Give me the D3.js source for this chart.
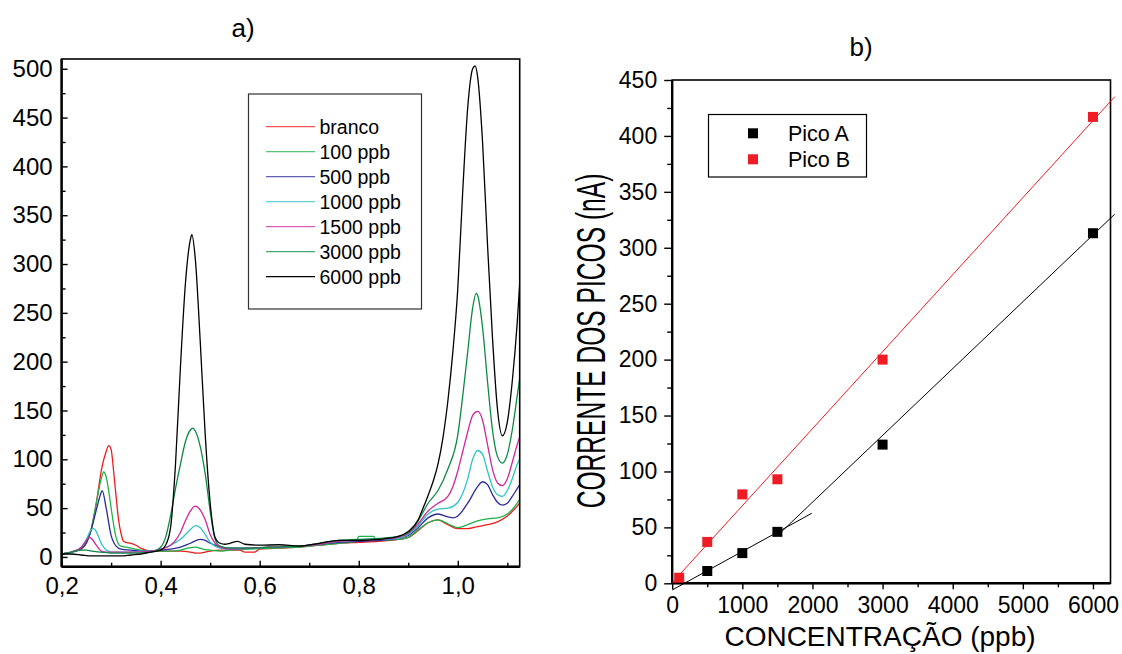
<!DOCTYPE html>
<html>
<head>
<meta charset="utf-8">
<script src="https://cdn.jsdelivr.net/npm/d3@7"></script>
<style>
body { margin: 0; background: #fff; }
svg { display: block; font-family: "Liberation Sans", Arial, sans-serif; }
</style>
</head>
<body>
<svg id="chart" width="1122" height="654"></svg>
<script>
// a) voltamogramas: [potencial, corrente]
const seriesNames = ["branco", "100 ppb", "500 ppb", "1000 ppb", "1500 ppb", "3000 ppb", "6000 ppb"];
const seriesColors = ["#f01c1c", "#1fb34a", "#2b2b9c", "#2ec4c4", "#cc2a9e", "#0c8a45", "#000000"];

const branco = [[0.20,3],[0.22,5],[0.24,8],[0.25,15],[0.26,29],[0.27,55],[0.28,88],[0.29,108],[0.295,114],[0.30,110],[0.305,88],[0.31,62],[0.315,38],[0.32,24],[0.325,16],[0.33,15],[0.34,14],[0.35,12],[0.36,9],[0.37,7],[0.38,6],[0.40,6],[0.42,6],[0.44,6],[0.46,5],[0.47,4],[0.48,4],[0.49,5],[0.50,6],[0.52,7],[0.54,7],[0.56,7],[0.57,5],[0.59,5],[0.60,8],[0.64,9],[0.68,10],[0.72,12],[0.76,14],[0.80,15],[0.84,16],[0.88,18],[0.90,20],[0.92,27],[0.94,35],[0.96,38],[0.98,33],[1.00,29],[1.02,29],[1.04,31],[1.06,33],[1.08,36],[1.10,42],[1.12,52],[1.125,55]];
const ppb100 = [[0.20,3],[0.22,5],[0.24,9],[0.25,15],[0.26,29],[0.27,55],[0.28,80],[0.285,87],[0.29,82],[0.295,68],[0.30,50],[0.31,20],[0.315,13],[0.32,11],[0.33,10],[0.34,9],[0.36,7],[0.38,6],[0.40,6],[0.42,6],[0.44,7],[0.455,9],[0.47,10],[0.485,8],[0.50,7],[0.52,6],[0.54,7],[0.58,8],[0.62,9],[0.68,10],[0.72,12],[0.76,14],[0.795,16],[0.80,21],[0.83,21],[0.835,17],[0.88,18],[0.90,20],[0.92,28],[0.94,35],[0.96,38],[0.98,34],[1.00,30],[1.02,33],[1.04,37],[1.06,39],[1.08,40],[1.10,44],[1.12,55],[1.125,59]];
const ppb500 = [[0.20,3],[0.22,5],[0.24,9],[0.25,14],[0.26,28],[0.27,48],[0.28,66],[0.282,68],[0.29,50],[0.30,22],[0.31,11],[0.32,8],[0.34,7],[0.36,6],[0.38,6],[0.40,7],[0.42,8],[0.44,10],[0.46,14],[0.48,18],[0.49,17],[0.50,14],[0.51,12],[0.52,10],[0.54,9],[0.58,9],[0.62,10],[0.68,11],[0.72,13],[0.76,15],[0.80,16],[0.84,17],[0.88,19],[0.90,22],[0.92,30],[0.94,40],[0.96,44],[0.98,41],[0.99,40],[1.00,42],[1.02,55],[1.04,72],[1.05,77],[1.06,74],[1.07,64],[1.08,56],[1.09,53],[1.10,55],[1.11,62],[1.12,70],[1.125,74]];
const ppb1000 = [[0.20,3],[0.22,5],[0.24,10],[0.25,18],[0.26,28],[0.265,29],[0.27,26],[0.28,14],[0.29,7],[0.30,5],[0.32,5],[0.34,5],[0.36,6],[0.38,6],[0.40,8],[0.42,12],[0.44,18],[0.46,28],[0.47,32],[0.48,30],[0.49,23],[0.50,15],[0.51,11],[0.52,9],[0.54,8],[0.58,9],[0.62,10],[0.68,11],[0.72,13],[0.76,16],[0.80,17],[0.84,18],[0.88,19],[0.90,23],[0.92,32],[0.94,44],[0.96,49],[0.98,50],[1.00,56],[1.02,80],[1.03,100],[1.04,109],[1.05,105],[1.06,88],[1.07,72],[1.08,64],[1.09,62],[1.10,68],[1.11,80],[1.12,95],[1.125,100]];
const ppb1500 = [[0.20,3],[0.22,5],[0.24,10],[0.25,17],[0.255,20],[0.26,19],[0.27,12],[0.28,6],[0.29,5],[0.30,5],[0.34,5],[0.38,6],[0.40,8],[0.42,12],[0.43,17],[0.44,25],[0.45,37],[0.46,47],[0.47,52],[0.48,48],[0.49,38],[0.50,23],[0.51,14],[0.52,10],[0.54,8],[0.58,9],[0.62,10],[0.68,11],[0.72,13],[0.76,16],[0.80,17],[0.84,18],[0.88,20],[0.90,24],[0.92,34],[0.94,47],[0.96,55],[0.98,62],[0.99,72],[1.00,88],[1.01,108],[1.02,128],[1.03,145],[1.04,149],[1.05,140],[1.06,115],[1.07,90],[1.08,76],[1.09,73],[1.10,80],[1.11,97],[1.12,115],[1.125,123]];
const ppb3000 = [[0.20,3],[0.22,5],[0.24,7],[0.25,7],[0.26,6],[0.28,5],[0.30,4],[0.34,4],[0.38,5],[0.40,10],[0.41,20],[0.42,42],[0.43,70],[0.44,95],[0.45,118],[0.46,130],[0.465,132],[0.47,129],[0.48,113],[0.49,85],[0.50,47],[0.51,18],[0.52,11],[0.54,9],[0.58,9],[0.62,10],[0.68,11],[0.72,14],[0.76,17],[0.80,18],[0.84,19],[0.88,21],[0.90,25],[0.92,37],[0.94,55],[0.96,68],[0.98,90],[1.00,125],[1.01,165],[1.02,210],[1.03,255],[1.037,270],[1.04,268],[1.05,235],[1.06,180],[1.07,130],[1.08,103],[1.09,96],[1.10,105],[1.11,130],[1.12,165],[1.125,183]];
const ppb6000 = [[0.20,3],[0.22,3],[0.24,2],[0.26,1],[0.28,1],[0.30,1],[0.32,1],[0.34,2],[0.36,3],[0.38,5],[0.40,7],[0.41,12],[0.42,30],[0.43,95],[0.44,195],[0.45,280],[0.46,325],[0.463,330],[0.47,305],[0.48,220],[0.49,125],[0.50,55],[0.51,20],[0.52,14],[0.53,13],[0.54,14],[0.555,16],[0.57,13],[0.60,12],[0.64,12.5],[0.68,11],[0.72,14],[0.76,17],[0.80,17],[0.84,18],[0.88,21],[0.90,26],[0.92,38],[0.93,50],[0.94,63],[0.95,77],[0.96,95],[0.97,122],[0.98,160],[0.99,210],[1.00,275],[1.01,375],[1.02,460],[1.03,500],[1.035,503],[1.04,492],[1.05,425],[1.06,320],[1.07,225],[1.08,152],[1.09,124],[1.10,138],[1.11,180],[1.12,240],[1.125,280]];

const curves = [branco, ppb100, ppb500, ppb1000, ppb1500, ppb3000, ppb6000];
const aTicksX = [0.2, 0.4, 0.6, 0.8, 1.0];
const aMinorX = [0.3, 0.5, 0.7, 0.9, 1.1];
const aTicksY = [0, 50, 100, 150, 200, 250, 300, 350, 400, 450, 500];
const aMinorY = [25, 75, 125, 175, 225, 275, 325, 375, 425, 475];

// b) curva de calibracao
const concA = [500, 1000, 1500, 3000, 6000];
const picoA = [11, 27, 46, 124, 313];
const concB = [100, 500, 1000, 1500, 3000, 6000];
const picoB = [5, 37, 79.5, 93, 200, 417];
const fitB = [[0, 0.5], [6310, 435]];
const fitA1 = [[0, -6], [1990, 62.6]];
const fitA2 = [[1500, 42.6], [6310, 330]];
const bTicksX = [0, 1000, 2000, 3000, 4000, 5000, 6000];
const bMinorX = [500, 1500, 2500, 3500, 4500, 5500];
const bTicksY = [0, 50, 100, 150, 200, 250, 300, 350, 400, 450];
const bMinorY = [25, 75, 125, 175, 225, 275, 325, 375, 425];
const legendB = ["Pico A", "Pico B"];
const colorsB = ["#000000", "#ee1c24"];

const svg = d3.select("#chart");

// ---------- painel a) ----------
var ax = d3.scaleLinear().domain([0.2, 1.125]).range([61.6, 519.7]);
var ay = d3.scaleLinear().domain([-10, 510]).range([566.7, 59]);
var comma = d => d.toFixed(1).replace(".", ",");

svg.append("clipPath").attr("id", "clipA")
    .append("rect")
    .attr("x", ax.range()[0]).attr("y", ay.range()[1])
    .attr("width", ax.range()[1] - ax.range()[0])
    .attr("height", ay.range()[0] - ay.range()[1]);

var line = d3.line()
    .x(d => ax(d[0]))
    .y(d => ay(d[1]))
    .curve(d3.curveMonotoneX);

svg.append("g").attr("clip-path", "url(#clipA)")
    .selectAll("path")
    .data(curves)
    .enter()
    .append("path")
    .attr("d", line)
    .attr("fill", "none")
    .attr("stroke", (d, i) => seriesColors[i])
    .attr("stroke-width", 1.3);

svg.append("rect")
    .attr("x", ax.range()[0]).attr("y", ay.range()[1])
    .attr("width", ax.range()[1] - ax.range()[0])
    .attr("height", ay.range()[0] - ay.range()[1])
    .attr("fill", "none").attr("stroke", "#000").attr("stroke-width", 1.6);

function styleAxis(g, size) {
    g.select(".domain").remove();
    g.selectAll("line").attr("stroke", "#000").attr("stroke-width", 1.4);
    g.selectAll("text").attr("fill", "#000").style("font-size", size + "px")
        .style("font-family", '"Liberation Sans", Arial, sans-serif');
}

svg.append("g").attr("transform", "translate(0," + ay.range()[0] + ")")
    .call(d3.axisBottom(ax).tickValues(aTicksX).tickFormat(comma).tickSizeInner(-6).tickSizeOuter(0).tickPadding(10))
    .call(g => styleAxis(g, 24));
svg.append("g").attr("transform", "translate(0," + ay.range()[0] + ")")
    .call(d3.axisBottom(ax).tickValues(aMinorX).tickFormat("").tickSizeInner(-4).tickSizeOuter(0))
    .call(g => styleAxis(g, 24));
svg.append("g").attr("transform", "translate(" + ax.range()[0] + ",0)")
    .call(d3.axisLeft(ay).tickValues(aTicksY).tickSizeInner(-6).tickSizeOuter(0).tickPadding(9))
    .call(g => styleAxis(g, 24));
svg.append("g").attr("transform", "translate(" + ax.range()[0] + ",0)")
    .call(d3.axisLeft(ay).tickValues(aMinorY).tickFormat("").tickSizeInner(-4).tickSizeOuter(0))
    .call(g => styleAxis(g, 24));

// eixos esquerdo e inferior mais grossos
svg.append("line").attr("x1", ax.range()[0]).attr("x2", ax.range()[1])
    .attr("y1", ay.range()[0]).attr("y2", ay.range()[0]).attr("stroke", "#000").attr("stroke-width", 2.4);
svg.append("line").attr("x1", ax.range()[0]).attr("x2", ax.range()[0])
    .attr("y1", ay.range()[0]).attr("y2", ay.range()[1]).attr("stroke", "#000").attr("stroke-width", 2.4);

svg.append("text").attr("x", 243).attr("y", 37).attr("text-anchor", "middle")
    .style("font-size", "26px").text("a)");

// legenda a)
var legA = svg.append("g");
legA.append("rect").attr("x", 248.5).attr("y", 94).attr("width", 173).attr("height", 215)
    .attr("fill", "#fff").attr("stroke", "#333").attr("stroke-width", 1.2);
seriesNames.forEach(function (name, i) {
    var yy = 126.7 + i * 25;
    legA.append("line").attr("x1", 266).attr("x2", 315).attr("y1", yy).attr("y2", yy)
        .attr("stroke", seriesColors[i]).attr("stroke-width", 1.3).attr("opacity", i == 6 ? 1 : 0.75);
    legA.append("text").attr("x", 319.5).attr("y", yy).attr("dy", "0.35em")
        .style("font-size", "19.5px").text(name);
});

// ---------- painel b) ----------
var bx = d3.scaleLinear().domain([0, 6250]).range([672.2, 1110.5]);
var by = d3.scaleLinear().domain([0, 450]).range([583.3, 80]);

svg.append("rect")
    .attr("x", bx.range()[0]).attr("y", by.range()[1])
    .attr("width", bx.range()[1] - bx.range()[0])
    .attr("height", by.range()[0] - by.range()[1])
    .attr("fill", "none").attr("stroke", "#000").attr("stroke-width", 1.6);

svg.append("g").attr("transform", "translate(0," + by.range()[0] + ")")
    .call(d3.axisBottom(bx).tickValues(bTicksX).tickFormat(d3.format("d")).tickSizeInner(6).tickSizeOuter(0).tickPadding(7))
    .call(g => styleAxis(g, 23));
svg.append("g").attr("transform", "translate(0," + by.range()[0] + ")")
    .call(d3.axisBottom(bx).tickValues(bMinorX).tickFormat("").tickSizeInner(4).tickSizeOuter(0))
    .call(g => styleAxis(g, 23));
svg.append("g").attr("transform", "translate(" + bx.range()[0] + ",0)")
    .call(d3.axisLeft(by).tickValues(bTicksY).tickSizeInner(8).tickSizeOuter(0).tickPadding(7))
    .call(g => styleAxis(g, 23));
svg.append("g").attr("transform", "translate(" + bx.range()[0] + ",0)")
    .call(d3.axisLeft(by).tickValues(bMinorY).tickFormat("").tickSizeInner(5).tickSizeOuter(0))
    .call(g => styleAxis(g, 23));

svg.append("line").attr("x1", bx.range()[0]).attr("x2", bx.range()[1])
    .attr("y1", by.range()[0]).attr("y2", by.range()[0]).attr("stroke", "#000").attr("stroke-width", 2.4);
svg.append("line").attr("x1", bx.range()[0]).attr("x2", bx.range()[0])
    .attr("y1", by.range()[0]).attr("y2", by.range()[1]).attr("stroke", "#000").attr("stroke-width", 2.4);

var fitLine = d3.line().x(d => bx(d[0])).y(d => by(d[1]));
svg.append("path").attr("d", fitLine(fitB)).attr("stroke", "#ee1c24").attr("stroke-width", 1).attr("fill", "none");
svg.append("path").attr("d", fitLine(fitA1)).attr("stroke", "#000").attr("stroke-width", 1).attr("fill", "none");
svg.append("path").attr("d", fitLine(fitA2)).attr("stroke", "#000").attr("stroke-width", 1).attr("fill", "none");

var sq = 10;
svg.append("g").selectAll("rect").data(concA).enter().append("rect")
    .attr("x", (d) => bx(d) - sq / 2)
    .attr("y", (d, i) => by(picoA[i]) - sq / 2)
    .attr("width", sq).attr("height", sq).attr("fill", colorsB[0]);
svg.append("g").selectAll("rect").data(concB).enter().append("rect")
    .attr("x", (d) => bx(d) - sq / 2)
    .attr("y", (d, i) => by(picoB[i]) - sq / 2)
    .attr("width", sq).attr("height", sq).attr("fill", colorsB[1]);

svg.append("text").attr("x", 861).attr("y", 56).attr("text-anchor", "middle")
    .style("font-size", "26px").text("b)");

svg.append("text").attr("x", 880).attr("y", 646).attr("text-anchor", "middle")
    .style("font-size", "28px").text("CONCENTRAÇÃO (ppb)");

// rotulo comprimido como no original
svg.append("text")
    .attr("transform", "translate(605,341) rotate(-90) scale(0.6,1)")
    .attr("text-anchor", "middle")
    .style("font-size", "41px").text("CORRENTE DOS PICOS (nA)");

// legenda b)
var legB = svg.append("g");
legB.append("rect").attr("x", 708.5).attr("y", 114.5).attr("width", 158).attr("height", 62.5)
    .attr("fill", "#fff").attr("stroke", "#000").attr("stroke-width", 1.2);
legendB.forEach(function (name, i) {
    var yy = 133.3 + i * 26;
    legB.append("rect").attr("x", 753 - sq / 2).attr("y", yy - sq / 2).attr("width", sq).attr("height", sq)
        .attr("fill", colorsB[i]);
    legB.append("text").attr("x", 788).attr("y", yy).attr("dy", "0.35em")
        .style("font-size", "21.5px").text(name);
});
</script>
</body>
</html>
